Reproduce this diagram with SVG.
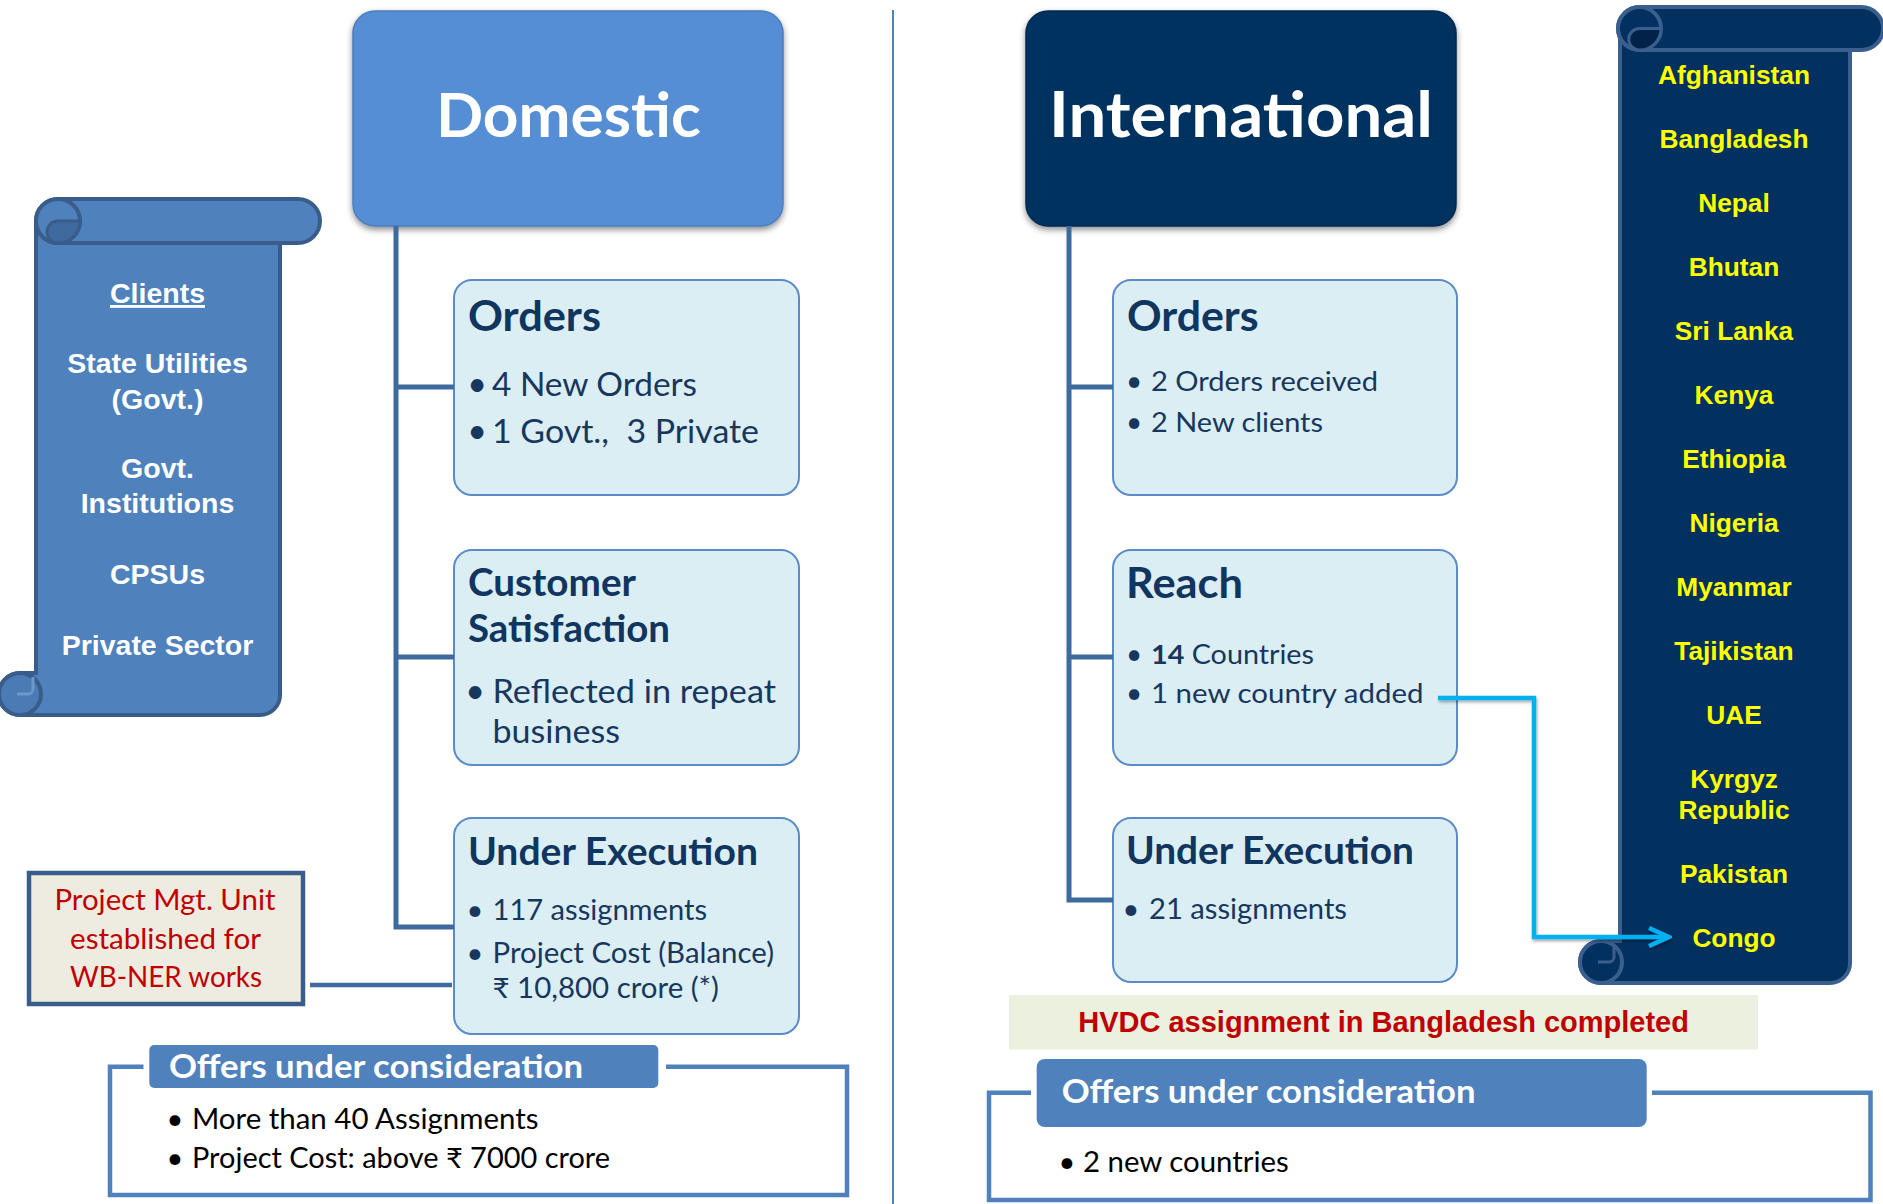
<svg xmlns="http://www.w3.org/2000/svg" width="1883" height="1204" viewBox="0 0 1883 1204">
<defs>
<style>
.c { font-family: Lato, 'Noto Sans', 'DejaVu Sans', sans-serif; }
.a { font-family: 'Liberation Sans', Arial, sans-serif; font-weight: bold; }
.hd { font-weight: bold; fill: #ffffff; }
.bt { font-weight: bold; fill: #10355F; }
.bl { fill: #17375E; }
.blk { fill: #000000; }
.red { fill: #C00000; }
.cty { fill: #FFFF00; font-size: 26.3px; }
.cli { fill: #ffffff; font-size: 28.5px; }
.box { fill: #DBEEF4; stroke: #5B8BC8; stroke-width: 2; }
.tree { stroke: #3E6B9E; stroke-width: 5; fill: none; }
.frame { stroke: #4F81BD; stroke-width: 4.5; fill: none; }
.lbl { fill: #4F81BD; }
</style>
<filter id="sh" x="-10%" y="-10%" width="120%" height="130%">
<feDropShadow dx="0" dy="3" stdDeviation="3" flood-color="#000" flood-opacity="0.45"/>
</filter>
<filter id="sh2" x="-5%" y="-5%" width="110%" height="110%">
<feDropShadow dx="1" dy="2" stdDeviation="1.5" flood-color="#000" flood-opacity="0.35"/>
</filter>
<marker id="chev" viewBox="0 0 26 22" refX="23" refY="11" markerWidth="26" markerHeight="22" markerUnits="userSpaceOnUse" orient="auto">
<path d="M3,2 L23,11 L3,20" fill="none" stroke="#00B0F0" stroke-width="4.5" stroke-linejoin="miter"/>
</marker>
</defs>

<rect width="1883" height="1204" fill="#ffffff"/>

<!-- separator -->
<line x1="893" y1="10" x2="893" y2="1204" stroke="#4F81BD" stroke-width="2"/>

<!-- Clients scroll -->
<g id="clients-scroll">
<path d="M36,221 H280 V695 A20,20 0 0 1 260,715 H20 A21,21 0 0 1 20,673 H36 Z" fill="#4F81BD" stroke="#385D8A" stroke-width="4"/>
<circle cx="20" cy="694" r="21" fill="#4A7BB5" stroke="#385D8A" stroke-width="4"/>
<path d="M33,677 V689 A5,5 0 0 1 28,694 H17" fill="none" stroke="#6E97CB" stroke-width="3"/>
<rect x="36" y="199" width="284" height="44" rx="22" fill="#4F81BD" stroke="#385D8A" stroke-width="4"/>
<circle cx="58" cy="221" r="22" fill="#4F81BD" stroke="#385D8A" stroke-width="4"/>
<path d="M80,221 H58 A11,11 0 0 0 58,243 A22,22 0 0 0 80,221 Z" fill="#3F6A9F" stroke="#385D8A" stroke-width="3"/>
<g class="a cli" text-anchor="middle">
<text x="157.5" y="303" text-decoration="underline">Clients</text>
<text x="157.5" y="373">State Utilities</text>
<text x="157.5" y="409">(Govt.)</text>
<text x="157.5" y="478">Govt.</text>
<text x="157.5" y="513">Institutions</text>
<text x="157.5" y="584">CPSUs</text>
<text x="157.5" y="655">Private Sector</text>
</g>
</g>

<!-- Domestic header -->
<g id="domestic">
<rect x="353" y="11" width="430" height="215" rx="22" fill="#558ED5" stroke="#4A7EBB" stroke-width="1.5" filter="url(#sh)"/>
<text class="c hd" x="436" y="137" font-size="62" textLength="265" lengthAdjust="spacingAndGlyphs">Domestic</text>
</g>

<!-- Domestic Orders -->
<g id="dom-orders">
<rect class="box" x="454" y="280" width="345" height="215" rx="18"/>
<text class="c bt" x="468" y="331" font-size="42" textLength="133" lengthAdjust="spacingAndGlyphs">Orders</text>
<text class="c bl" x="477" y="396" font-size="34" text-anchor="middle">•</text>
<text class="c bl" x="492" y="396" font-size="32.5" textLength="205" lengthAdjust="spacingAndGlyphs">4 New Orders</text>
<text class="c bl" x="477" y="443" font-size="34" text-anchor="middle">•</text>
<text class="c bl" x="492" y="443" font-size="32.5" textLength="267" lengthAdjust="spacingAndGlyphs" xml:space="preserve">1 Govt.,  3 Private</text>
</g>

<!-- Domestic Customer Satisfaction -->
<g id="dom-satisfaction">
<rect class="box" x="454" y="550" width="345" height="215" rx="18"/>
<text class="c bt" x="468" y="596" font-size="38" textLength="168" lengthAdjust="spacingAndGlyphs">Customer</text>
<text class="c bt" x="468" y="642" font-size="38" textLength="202" lengthAdjust="spacingAndGlyphs">Satisfaction</text>
<text class="c bl" x="475" y="703" font-size="34" text-anchor="middle">•</text>
<text class="c bl" x="492.5" y="703" font-size="32.5" textLength="283.5" lengthAdjust="spacingAndGlyphs">Reflected in repeat</text>
<text class="c bl" x="492.5" y="743" font-size="32.5" textLength="127.5" lengthAdjust="spacingAndGlyphs">business</text>
</g>

<!-- Domestic Under Execution -->
<g id="dom-execution">
<rect class="box" x="454" y="818" width="345" height="216" rx="18"/>
<text class="c bt" x="468" y="865" font-size="38" textLength="290" lengthAdjust="spacingAndGlyphs">Under Execution</text>
<text class="c bl" x="475" y="920" font-size="29" text-anchor="middle">•</text>
<text class="c bl" x="492.5" y="920" font-size="28" textLength="214.5" lengthAdjust="spacingAndGlyphs">117 assignments</text>
<text class="c bl" x="475" y="963" font-size="29" text-anchor="middle">•</text>
<text class="c bl" x="492.5" y="963" font-size="28" textLength="281.5" lengthAdjust="spacingAndGlyphs">Project Cost (Balance)</text>
<text class="c bl" x="492.5" y="997.5" font-size="28" textLength="226.5" lengthAdjust="spacingAndGlyphs">₹ 10,800 crore (*)</text>
</g>

<!-- Project Mgt Unit -->
<g id="pmu">
<rect x="29" y="873" width="274" height="131" fill="#EEECE1" stroke="#385D8A" stroke-width="4.5"/>
<text class="c red" x="54.5" y="910" font-size="28" textLength="221" lengthAdjust="spacingAndGlyphs">Project Mgt. Unit</text>
<text class="c red" x="70" y="948.5" font-size="28" textLength="191" lengthAdjust="spacingAndGlyphs">established for</text>
<text class="c red" x="70" y="987" font-size="28" textLength="192" lengthAdjust="spacingAndGlyphs">WB-NER works</text>
</g>

<!-- Domestic Offers -->
<g id="dom-offers">
<path class="frame" d="M143.5,1066.7 H110 V1195 H847 V1066.7 H666"/>
<rect class="lbl" x="149.3" y="1045" width="509" height="43" rx="5"/>
<text class="c hd" x="169" y="1077.6" font-size="32.5" textLength="414" lengthAdjust="spacingAndGlyphs">Offers under consideration</text>
<text class="c blk" x="175" y="1129" font-size="29" text-anchor="middle">•</text>
<text class="c blk" x="192" y="1129" font-size="28" textLength="346.5" lengthAdjust="spacingAndGlyphs">More than 40 Assignments</text>
<text class="c blk" x="175" y="1168" font-size="29" text-anchor="middle">•</text>
<text class="c blk" x="192" y="1168" font-size="28" textLength="418" lengthAdjust="spacingAndGlyphs">Project Cost: above ₹ 7000 crore</text>
</g>

<!-- International header -->
<g id="international">
<rect x="1026" y="11" width="430" height="215" rx="22" fill="#02305F" stroke="#022A52" stroke-width="1.5" filter="url(#sh)"/>
<text class="c hd" x="1049" y="137" font-size="63" textLength="384" lengthAdjust="spacingAndGlyphs">International</text>
</g>

<!-- International Orders -->
<g id="int-orders">
<rect class="box" x="1113" y="280" width="344" height="215" rx="18"/>
<text class="c bt" x="1127" y="331" font-size="42" textLength="131.6" lengthAdjust="spacingAndGlyphs">Orders</text>
<text class="c bl" x="1134" y="391" font-size="28" text-anchor="middle">•</text>
<text class="c bl" x="1151" y="391" font-size="27" textLength="227" lengthAdjust="spacingAndGlyphs">2 Orders received</text>
<text class="c bl" x="1134" y="432" font-size="28" text-anchor="middle">•</text>
<text class="c bl" x="1151" y="432" font-size="27" textLength="172" lengthAdjust="spacingAndGlyphs">2 New clients</text>
</g>

<!-- International Reach -->
<g id="int-reach">
<rect class="box" x="1113" y="550" width="344" height="215" rx="18"/>
<text class="c bt" x="1126" y="598" font-size="42" textLength="117" lengthAdjust="spacingAndGlyphs">Reach</text>
<text class="c bl" x="1134" y="663.5" font-size="28" text-anchor="middle">•</text>
<text class="c bl" x="1151" y="663.5" font-size="27" textLength="163" lengthAdjust="spacingAndGlyphs"><tspan font-weight="bold">14</tspan> Countries</text>
<text class="c bl" x="1134" y="703" font-size="28" text-anchor="middle">•</text>
<text class="c bl" x="1151" y="703" font-size="27" textLength="272.5" lengthAdjust="spacingAndGlyphs">1 new country added</text>
</g>

<!-- International Under Execution -->
<g id="int-execution">
<rect class="box" x="1113" y="818" width="344" height="164" rx="18"/>
<text class="c bt" x="1126" y="864" font-size="38" textLength="288" lengthAdjust="spacingAndGlyphs">Under Execution</text>
<text class="c bl" x="1131" y="919" font-size="29" text-anchor="middle">•</text>
<text class="c bl" x="1149" y="919" font-size="28" textLength="198" lengthAdjust="spacingAndGlyphs">21 assignments</text>
</g>

<!-- Countries scroll -->
<g id="countries-scroll">
<path d="M1620,29 H1850 V963 A20,20 0 0 1 1830,983 H1601 A21,21 0 0 1 1601,941 H1620 Z" fill="#02305F" stroke="#3A5F8F" stroke-width="4"/>
<circle cx="1601" cy="962" r="21" fill="#02305F" stroke="#3A5F8F" stroke-width="4"/>
<path d="M1614,946 V957 A5,5 0 0 1 1609,962 H1598" fill="none" stroke="#3A5F8F" stroke-width="3"/>
<rect x="1618" y="7" width="265" height="43" rx="21.5" fill="#02305F" stroke="#3A5F8F" stroke-width="4"/>
<circle cx="1639.5" cy="28.5" r="21.5" fill="#02305F" stroke="#3A5F8F" stroke-width="4"/>
<path d="M1661,28.5 H1639.5 A10.75,10.75 0 0 0 1639.5,50 A21.5,21.5 0 0 0 1661,28.5 Z" fill="#01234A" stroke="#3A5F8F" stroke-width="3"/>
<g class="a cty" text-anchor="middle">
<text x="1734" y="83.5">Afghanistan</text>
<text x="1734" y="147.5">Bangladesh</text>
<text x="1734" y="211.5">Nepal</text>
<text x="1734" y="275.5">Bhutan</text>
<text x="1734" y="339.5">Sri Lanka</text>
<text x="1734" y="403.5">Kenya</text>
<text x="1734" y="467.5">Ethiopia</text>
<text x="1734" y="531.5">Nigeria</text>
<text x="1734" y="595.5">Myanmar</text>
<text x="1734" y="659.5">Tajikistan</text>
<text x="1734" y="723.5">UAE</text>
<text x="1734" y="787.5">Kyrgyz</text>
<text x="1734" y="819">Republic</text>
<text x="1734" y="883">Pakistan</text>
<text x="1734" y="947">Congo</text>
</g>
</g>

<!-- HVDC banner -->
<g id="hvdc">
<rect x="1009" y="995" width="749" height="54.5" fill="#EBF1DE"/>
<text class="a red" x="1383.6" y="1032" font-size="29" text-anchor="middle">HVDC assignment in Bangladesh completed</text>
</g>

<!-- International Offers -->
<g id="int-offers">
<path class="frame" d="M1031,1092.7 H989 V1200 H1870.5 V1092.7 H1652"/>
<rect class="lbl" x="1036.7" y="1059" width="610" height="68" rx="8"/>
<text class="c hd" x="1061.8" y="1102.7" font-size="32.5" textLength="413.7" lengthAdjust="spacingAndGlyphs">Offers under consideration</text>
<text class="c blk" x="1067" y="1172" font-size="29" text-anchor="middle">•</text>
<text class="c blk" x="1083" y="1172" font-size="28" textLength="205.7" lengthAdjust="spacingAndGlyphs">2 new countries</text>
</g>

<!-- connectors -->
<g id="connectors">
<path class="tree" d="M396,226 V927 H454 M396,387 H454 M396,657 H454"/>
<path class="tree" d="M1069,226 V900 H1113 M1069,387 H1113 M1069,657 H1113"/>
<path d="M310,985 H452" stroke="#3E6B9E" stroke-width="4.5" fill="none"/>
<path d="M1438,698 H1534 V937 H1669" stroke="#00B0F0" stroke-width="4.5" fill="none" marker-end="url(#chev)" filter="url(#sh2)"/>
</g>
</svg>
